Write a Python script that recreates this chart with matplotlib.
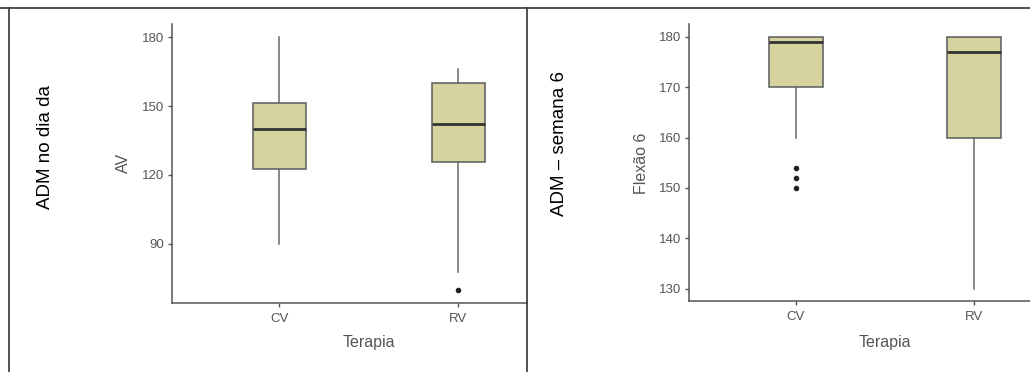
import matplotlib
matplotlib.use("Agg")
import matplotlib.pyplot as plt
from matplotlib.lines import Line2D

plt.rcParams['font.family'] = ['Liberation Sans', 'DejaVu Sans']

# categories
groups = ["CV", "RV"]

# left panel: AV (day of discharge) - box stats
av_low = [90, 78]
av_q1 = [122.5, 125.5]
av_med = [140, 142]
av_q3 = [151.5, 160]
av_high = [180, 166]
av_out = [[], [70]]

# right panel: Flexao 6 (week 6)
fl_low = [160, 130]
fl_q1 = [170, 160]
fl_med = [179, 177]
fl_q3 = [180, 180]
fl_high = [180, 180]
fl_out = [[154, 152, 150], []]

fill = "#d6d39e"
W, H = 1030, 372


def stats(low, q1, med, q3, high, out):
    res = []
    for i, g in enumerate(groups):
        res.append(dict(label=g, whislo=low[i], q1=q1[i], med=med[i],
                        q3=q3[i], whishi=high[i], fliers=out[i]))
    return res


def panel(rect, st, ylim, yticks, xmax, ylabel, ylab_x, xlab_x):
    ax = fig.add_axes(rect)
    ax.bxp(st, positions=[1, 2], widths=0.3, patch_artist=True,
           showcaps=False,
           boxprops=dict(facecolor=fill, edgecolor="#5a5a5a", linewidth=1.1),
           medianprops=dict(color="#333333", linewidth=2),
           whiskerprops=dict(color="#6a6a6a", linewidth=1.1),
           flierprops=dict(marker="o", markersize=3, markerfacecolor="#222222",
                           markeredgecolor="#222222"))
    ax.set_xlim(0.4, xmax)
    ax.set_ylim(*ylim)
    ax.set_yticks(yticks)
    ax.set_xticks([1, 2])
    ax.set_xticklabels(groups)
    for s in ["top", "right"]:
        ax.spines[s].set_visible(False)
    for s in ["left", "bottom"]:
        ax.spines[s].set_color("#555555")
        ax.spines[s].set_linewidth(1.1)
    ax.tick_params(colors="#555555", labelcolor="#555555", labelsize=9.5,
                   length=3, width=1, pad=2.5)
    ax.tick_params(axis="x", pad=4)
    fig.text(ylab_x / W, 1 - 163 / H, ylabel, rotation=90, ha="center",
             va="center", fontsize=11.5, color="#555555")
    fig.text(xlab_x / W, 1 - 342 / H, "Terapia", ha="center", va="center",
             fontsize=11.5, color="#555555")
    return ax


fig = plt.figure(figsize=(W / 100, H / 100), dpi=100)

# left panel, clipped at the table cell border
panel([172 / W, 1 - 303 / H, (527 - 172) / W, (303 - 24) / H],
      stats(av_low, av_q1, av_med, av_q3, av_high, av_out),
      (64.3, 185.7), [90, 120, 150, 180], 0.4 + (527 - 172) / 179,
      "AV", 123, 369)

# right panel, clipped at the image edge
panel([689 / W, 1 - 301 / H, (1030 - 689) / W, (301 - 24) / H],
      stats(fl_low, fl_q1, fl_med, fl_q3, fl_high, fl_out),
      (127.6, 182.5), [130, 140, 150, 160, 170, 180], 0.4 + (1030 - 689) / 178,
      "Flexão 6", 642, 885)

# outer row titles of the table
fig.text(45 / W, 1 - 147 / H, "ADM no dia da", rotation=90, ha="center",
         va="center", fontsize=13.5, color="black")
fig.text(560 / W, 1 - 144 / H, "ADM – semana 6", rotation=90, ha="center",
         va="center", fontsize=13.5, color="black")

# table borders
fig.add_artist(Line2D([0, 1], [1 - 8 / H, 1 - 8 / H], color="#333333", lw=1.2))
fig.add_artist(Line2D([9 / W, 9 / W], [0, 1 - 8 / H], color="#333333", lw=1.2))
fig.add_artist(Line2D([527 / W, 527 / W], [0, 1 - 8 / H], color="#333333", lw=1.2))

fig.savefig("out.png", dpi=100)
